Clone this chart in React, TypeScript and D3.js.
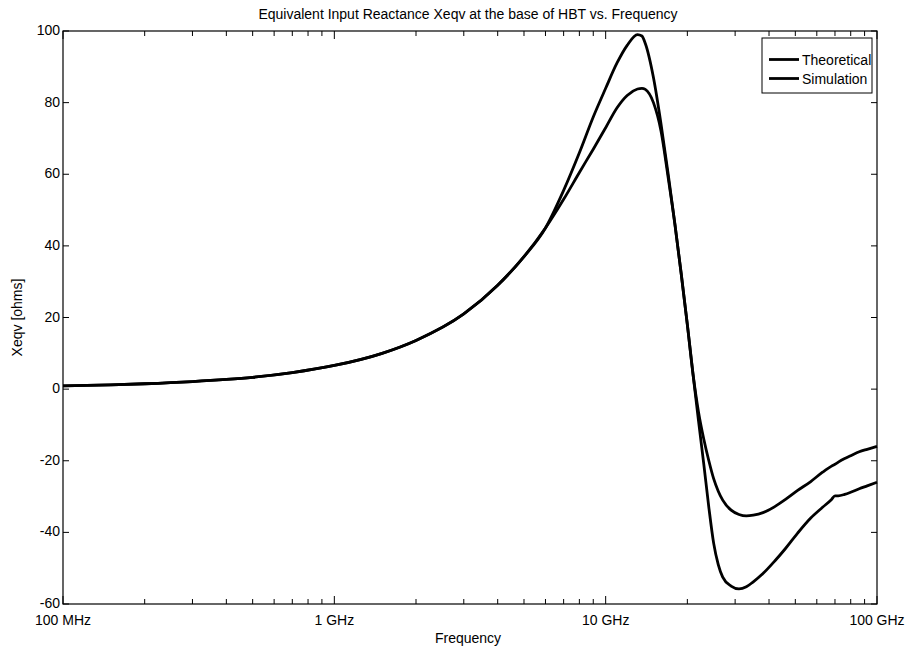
import { scaleLog, scaleLinear, line, curveMonotoneX } from 'd3';

// Frequency samples in GHz
const freqGHz = [
    0.1, 0.15, 0.2, 0.3, 0.4, 0.5, 0.7, 1, 1.5, 2, 3, 4, 5, 6, 7, 8, 9, 10, 11, 12, 13.1, 13.6, 14, 15,
    16, 17, 18, 19, 20, 21, 22, 23, 24, 25, 26, 27, 29, 31, 33, 35, 38, 42, 46, 51, 57, 63, 68, 70, 72,
    76, 80, 86, 92, 100,
];

// Simulation (larger resonance, kink near 70 GHz)
const simulation = [
    0.9, 1.2, 1.5, 2.1, 2.7, 3.3, 4.6, 6.6, 10, 13.6, 21, 29, 37, 45, 55.5, 66, 76, 84, 91, 96, 99,
    98.6, 96.5, 87, 74, 60, 46, 32, 18, 4, -9, -21, -33, -43, -49, -52.5, -55, -55.8, -55.2, -53.8,
    -51.5, -48, -44.5, -40.2, -36, -33, -30.8, -29.8, -29.8, -29.4, -28.8, -27.8, -27, -26,
];

// Theoretical
const theoretical = [
    0.9, 1.2, 1.5, 2.1, 2.7, 3.3, 4.6, 6.6, 10, 13.6, 21, 29, 37, 45, 53, 60.5, 67, 73, 78.5, 82, 83.8,
    84, 83.7, 80, 72, 59, 46, 32, 18, 4, -6.5, -14, -20, -25, -28.5, -31, -33.8, -35, -35.4, -35.2,
    -34.5, -32.8, -30.8, -28.3, -25.8, -23.2, -21.5, -21, -20.4, -19.4, -18.6, -17.5, -16.8, -16,
];

const yTicks = [-60, -40, -20, 0, 20, 40, 60, 80, 100];
const xMajor = [0.1, 1, 10, 100];
const xLabels = ['100 MHz', '1 GHz', '10 GHz', '100 GHz'];
const seriesNames = ['Theoretical', 'Simulation'];

export default function App() {
    // Dimensions
    const width = 910;
    const height = 649;
    const left = 63;
    const right = 877;
    const top = 31;
    const bottom = 604;
    const fs = 14;

    // Scales
    const x = scaleLog().domain([0.1, 100]).range([left, right]);
    const y = scaleLinear().domain([-60, 100]).range([bottom, top]);

    const minor: number[] = [];
    [0.1, 1, 10].forEach((d) => {
        for (let k = 2; k <= 9; k++) minor.push(d * k);
    });

    const path = (vals: number[]) =>
        line<number>()
            .x((d, i) => x(freqGHz[i]))
            .y((d) => y(d))
            .curve(curveMonotoneX)(vals) || '';

    const font = 'Liberation Sans, Arial, sans-serif';

    return (
        <svg
            width={width}
            height={height}
            style={{ position: 'absolute', left: 0, top: 0, background: '#fff' }}
            fontFamily={font}
        >
            <text x={468} y={19} textAnchor="middle" fontSize={fs}>
                Equivalent Input Reactance Xeqv at the base of HBT vs. Frequency
            </text>

            {/* curves */}
            <path d={path(theoretical)} fill="none" stroke="#000" strokeWidth={2.8} strokeLinejoin="round" />
            <path d={path(simulation)} fill="none" stroke="#000" strokeWidth={2.8} strokeLinejoin="round" />

            {/* frame */}
            <rect x={left} y={top} width={right - left} height={bottom - top} fill="none" stroke="#000" strokeWidth={1.2} />

            {/* y ticks */}
            {yTicks.map((t) => (
                <g key={t}>
                    <line x1={left} x2={left + 6} y1={y(t)} y2={y(t)} stroke="#000" />
                    <line x1={right} x2={right - 6} y1={y(t)} y2={y(t)} stroke="#000" />
                    <text x={left - 3} y={y(t) + 4} textAnchor="end" fontSize={fs}>
                        {t}
                    </text>
                </g>
            ))}

            {/* x ticks */}
            {xMajor.map((t, i) => (
                <g key={t}>
                    <line x1={x(t)} x2={x(t)} y1={bottom} y2={bottom - 8} stroke="#000" />
                    <line x1={x(t)} x2={x(t)} y1={top} y2={top + 8} stroke="#000" />
                    <text x={x(t)} y={bottom + 21} textAnchor="middle" fontSize={fs}>
                        {xLabels[i]}
                    </text>
                </g>
            ))}
            {minor.map((t) => (
                <g key={t}>
                    <line x1={x(t)} x2={x(t)} y1={bottom} y2={bottom - 5} stroke="#000" />
                    <line x1={x(t)} x2={x(t)} y1={top} y2={top + 5} stroke="#000" />
                </g>
            ))}

            {/* axis labels */}
            <text x={468} y={643} textAnchor="middle" fontSize={fs}>
                Frequency
            </text>
            <text transform={`translate(22, ${(top + bottom) / 2}) rotate(-90)`} textAnchor="middle" fontSize={fs}>
                Xeqv [ohms]
            </text>

            {/* legend */}
            <rect x={762} y={38} width={110} height={55} fill="#fff" stroke="#000" />
            {seriesNames.map((n, i) => (
                <g key={n}>
                    <line x1={769} x2={799} y1={59.5 + i * 19} y2={59.5 + i * 19} stroke="#000" strokeWidth={2.8} />
                    <text x={802} y={64.5 + i * 19} fontSize={fs}>
                        {n}
                    </text>
                </g>
            ))}
        </svg>
    );
}
